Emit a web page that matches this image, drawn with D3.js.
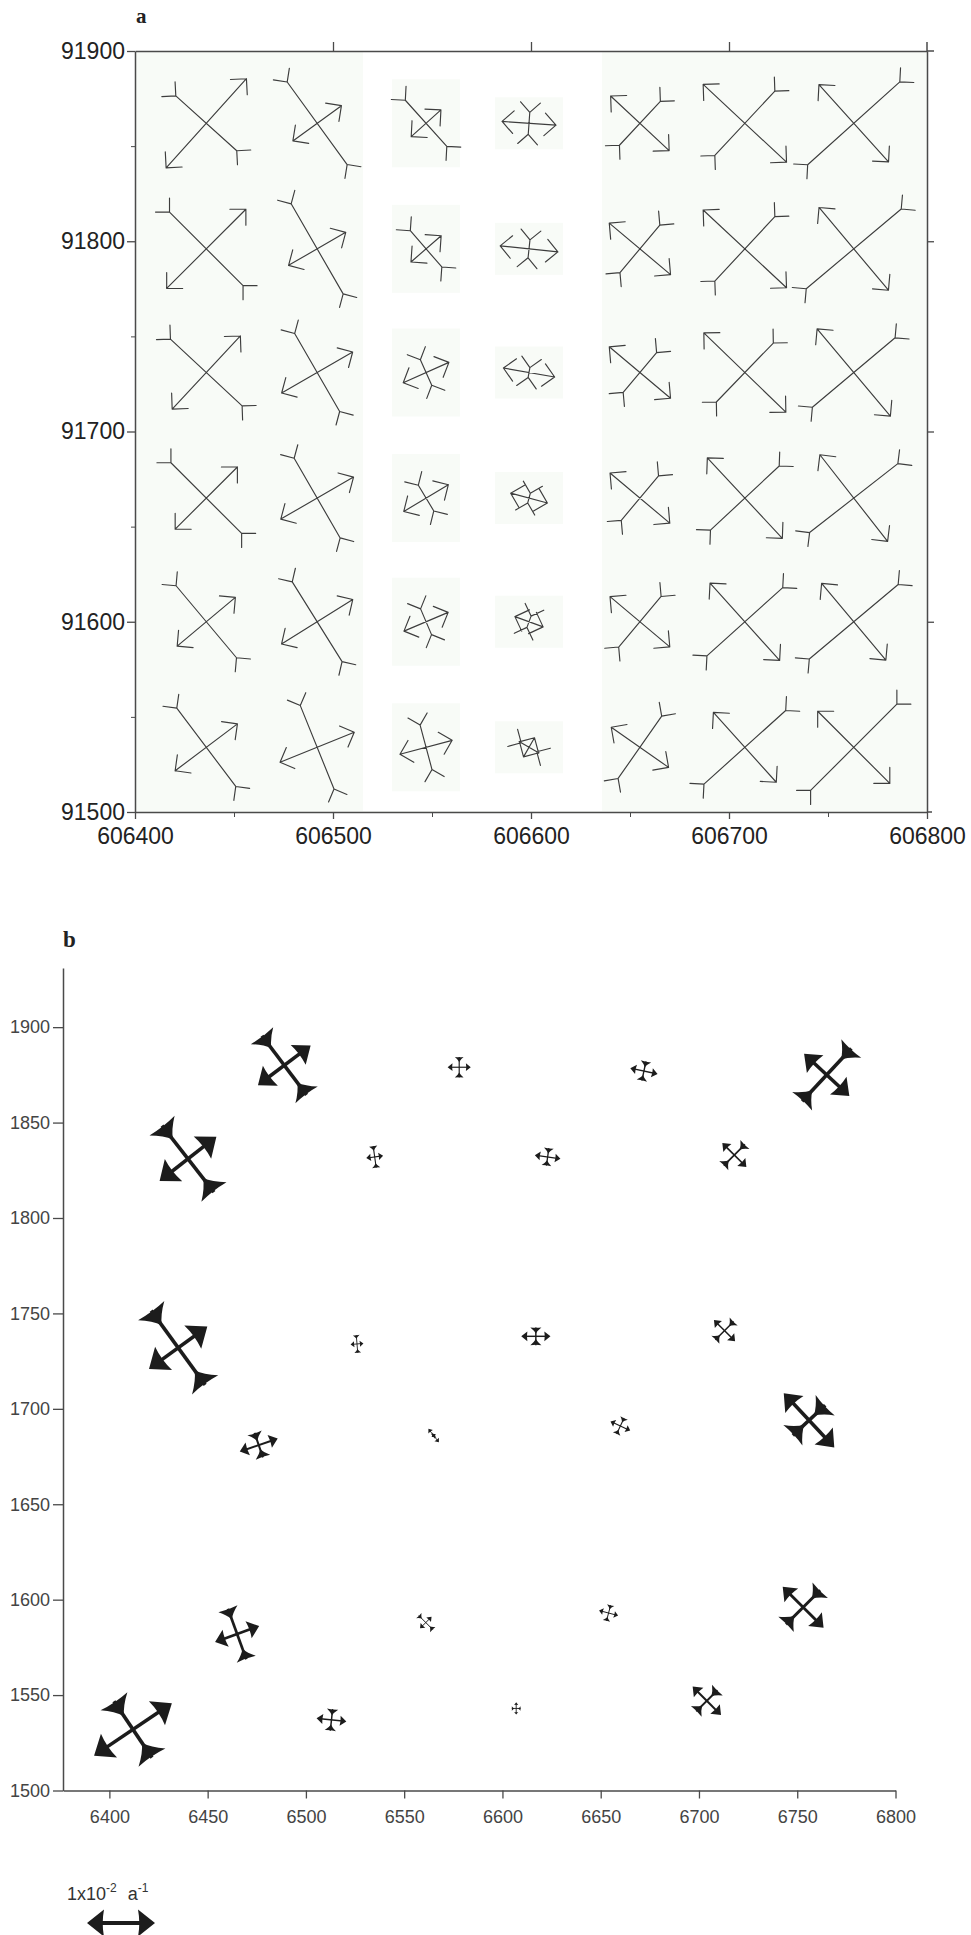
<!DOCTYPE html>
<html><head><meta charset="utf-8">
<script src="https://cdn.jsdelivr.net/npm/d3@7"></script>
<style>body{margin:0;background:#fff} svg{display:block}</style>
</head><body>
<svg id="c" width="971" height="1935"></svg>
<script>
// ---------------- Panel a data ----------------
const aEast  = [606436, 606492, 606547, 606599, 606655, 606708, 606763];
const aNorth = [91862, 91796, 91731, 91665, 91600, 91534];
// rows top -> bottom, columns west -> east (arbitrary strain units)
const aExt = [
  [6.0, 3.0, 2.0, 2.7, 4.0, 5.7, 5.2],
  [5.6, 3.3, 2.0, 2.9, 4.0, 5.7, 5.4],
  [5.0, 4.1, 2.5, 2.6, 4.0, 5.7, 5.7],
  [4.4, 4.2, 2.6, 1.9, 3.9, 5.5, 5.5],
  [3.8, 4.2, 2.4, 1.5, 3.9, 5.2, 5.0],
  [3.9, 4.0, 2.7, 1.1, 3.5, 4.7, 5.1]
];
const aComp = [
  [4.1, 5.1, 3.1, 1.1, 3.0, 4.4, 6.2],
  [5.2, 5.2, 2.4, 0.9, 3.1, 4.4, 6.2],
  [4.9, 4.5, 1.4, 0.5, 2.6, 4.1, 5.4],
  [5.0, 4.6, 1.5, 0.5, 2.9, 4.7, 5.6],
  [4.7, 4.7, 1.4, 0.6, 3.3, 5.1, 5.8],
  [4.9, 4.5, 2.3, 0.9, 3.8, 5.5, 6.1]
];
// azimuth of the extension axis, degrees counter-clockwise from east
const aAzimuth = [
  [48, 36, 42, -4, 137, 137, 132],
  [45, 30, 41, -6, 140, 137, 130],
  [47, 30, 24, -10, 140, 136, 130],
  [45, 30, 31, -15, 140, 133, 128],
  [40, 32, 23, -20, 140, 132, 130],
  [37, 22, 15, 60, 145, 132, 135]
];
const aXTicks = [606400, 606500, 606600, 606700, 606800];
const aXMinor = [606450, 606550, 606650, 606750];
const aTopTicks = [606500, 606600, 606700];
const aYTicks = [91500, 91600, 91700, 91800, 91900];
const aYMinor = [91550, 91650, 91750, 91850];
const aRightTicks = [91600, 91700, 91800];

// ---------------- Panel b data ----------------
const bEast  = [6489, 6440, 6578, 6535, 6435, 6672, 6765, 6623, 6718, 6617, 6713, 6526,
                6756, 6753, 6704, 6660, 6654, 6607, 6476, 6565, 6465, 6412, 6513, 6561];
const bNorth = [1880, 1831, 1879, 1832, 1732, 1877, 1875, 1832, 1833, 1738, 1741, 1734,
                1694, 1596, 1547, 1691, 1593, 1543, 1681, 1686, 1582, 1532, 1537, 1588];
// principal strain rates, units of 1x10^-2 a^-1
const bExt  = [0.97, 1.06, 0.34, 0.25, 1.06, 0.41, 0.91, 0.38, 0.50, 0.43, 0.44, 0.19,
               1.09, 0.85, 0.59, 0.32, 0.29, 0.18, 0.59, 0.25, 0.69, 1.38, 0.44, 0.24];
const bComp = [1.09, 1.24, 0.30, 0.32, 1.35, 0.29, 1.06, 0.26, 0.44, 0.26, 0.38, 0.26,
               0.65, 0.71, 0.44, 0.26, 0.24, 0.13, 0.38, 0.03, 0.79, 1.00, 0.32, 0.29];
const bAzimuth = [37, 38, 0, 8, 36, -12, 137, -8, 135, 0, 135, 5,
                  133, 135, 135, -25, -15, 90, 19, 128, 20, 34, -6, 45];
const bXTicks = [6400, 6450, 6500, 6550, 6600, 6650, 6700, 6750, 6800];
const bYTicks = [1500, 1550, 1600, 1650, 1700, 1750, 1800, 1850, 1900];
const legendValue = 1;   // 1x10^-2 a^-1

// ---------------- drawing ----------------
const svg = d3.select("#c");
svg.append("rect").attr("width", 971).attr("height", 1935).attr("fill", "#fff");
const SANS = "'Liberation Sans', Arial, Helvetica, sans-serif";
const SERIF = "'Liberation Serif', 'DejaVu Serif', serif";

// scales
const xA = d3.scaleLinear().domain([606400, 606800]).range([135, 927]);
const yA = d3.scaleLinear().domain([91500, 91900]).range([812, 51]);
const aLen = d3.scaleLinear().domain([0, 1]).range([0, 10]);

const xB = d3.scaleLinear().domain([6376.4, 6800]).range([63, 895.5]);
const yB = d3.scaleLinear().domain([1500, 1931]).range([1790.5, 968]);
const bLen = d3.scaleLinear().domain([0, 1]).range([0, 34]);

function rot(v, deg) {
  const r = deg * Math.PI / 180, c = Math.cos(r), s = Math.sin(r);
  return [v[0] * c - v[1] * s, v[0] * s + v[1] * c];
}

// ---- panel a background tint (scanned paper) ----
const tint = "#f8fbf7";
const gTint = svg.append("g");
gTint.append("rect").attr("x", xA(606400)).attr("y", yA(91900))
  .attr("width", xA(606800) - xA(606400)).attr("height", yA(91500) - yA(91900)).attr("fill", tint);
gTint.append("rect").attr("x", 363).attr("y", yA(91900) + 1)
  .attr("width", 602 - 363).attr("height", yA(91500) - yA(91900) - 2).attr("fill", "#fff");
aNorth.forEach((n, r) => {
  const cy = yA(n);
  gTint.append("rect").attr("x", xA(aEast[2]) - 34).attr("y", cy - 44)
    .attr("width", 68).attr("height", 88).attr("fill", tint);
  gTint.append("rect").attr("x", xA(aEast[3]) - 34).attr("y", cy - 26)
    .attr("width", 68).attr("height", 52).attr("fill", tint);
});

// ---- panel a crosses ----
const gA = svg.append("g").attr("fill", "none").attr("stroke", "#3d3d3d")
  .attr("stroke-width", 1.15).attr("stroke-linecap", "round");
aNorth.forEach((n, r) => {
  aEast.forEach((e, c) => {
    const cx = xA(e), cy = yA(n);
    const E = aLen(aExt[r][c]), C = aLen(aComp[r][c]);
    const t = aAzimuth[r][c] * Math.PI / 180;
    const u = [Math.cos(t), -Math.sin(t)];
    const v = [-Math.sin(t), -Math.cos(t)];
    const p = d3.path();
    // extension axis with outward open arrowheads
    p.moveTo(cx - E * u[0], cy - E * u[1]); p.lineTo(cx + E * u[0], cy + E * u[1]);
    [1, -1].forEach(s => {
      const tip = [cx + s * E * u[0], cy + s * E * u[1]];
      const back = [-s * u[0], -s * u[1]];
      [45, -45].forEach(a => {
        const b = rot(back, a);
        p.moveTo(tip[0], tip[1]); p.lineTo(tip[0] + 16 * b[0], tip[1] + 16 * b[1]);
      });
    });
    // compression axis with inward arrowheads (forked ends)
    p.moveTo(cx - C * v[0], cy - C * v[1]); p.lineTo(cx + C * v[0], cy + C * v[1]);
    [1, -1].forEach(s => {
      const end = [cx + s * C * v[0], cy + s * C * v[1]];
      const out = [s * v[0], s * v[1]];
      [45, -45].forEach(a => {
        const b = rot(out, a);
        p.moveTo(end[0], end[1]); p.lineTo(end[0] + 14 * b[0], end[1] + 14 * b[1]);
      });
    });
    gA.append("path").attr("d", p.toString());
  });
});

// ---- panel a axes ----
const axCol = "#4a4a4a";
function styleAxis(g, fs, col) {
  g.attr("font-family", SANS).attr("font-size", fs).attr("color", axCol);
  g.selectAll("text").attr("fill", col);
  g.selectAll(".tick line").attr("stroke-width", 1.3);
  g.select(".domain").attr("stroke-width", 1.5);
}
const gAB = svg.append("g").attr("transform", `translate(0,${yA(91500)})`)
  .call(d3.axisBottom(xA).tickValues(aXTicks).tickSize(7).tickSizeOuter(0).tickPadding(9).tickFormat(d3.format("d")));
styleAxis(gAB, 23, "#222");
const gABm = svg.append("g").attr("transform", `translate(0,${yA(91500)})`)
  .call(d3.axisBottom(xA).tickValues(aXMinor).tickSize(5).tickFormat(""));
gABm.select(".domain").remove(); gABm.attr("color", axCol);
const gAL = svg.append("g").attr("transform", `translate(${xA(606400)},0)`)
  .call(d3.axisLeft(yA).tickValues(aYTicks).tickSize(8).tickSizeOuter(0).tickPadding(2).tickFormat(d3.format("d")));
styleAxis(gAL, 23, "#222");
const gALm = svg.append("g").attr("transform", `translate(${xA(606400)},0)`)
  .call(d3.axisLeft(yA).tickValues(aYMinor).tickSize(4).tickFormat(""));
gALm.select(".domain").remove(); gALm.attr("color", axCol);
const gAT = svg.append("g").attr("transform", `translate(0,${yA(91900)})`)
  .call(d3.axisTop(xA).tickValues(aTopTicks).tickSize(9).tickSizeOuter(0).tickFormat(""));
styleAxis(gAT, 23, "#222");
const gAR = svg.append("g").attr("transform", `translate(${xA(606800)},0)`)
  .call(d3.axisRight(yA).tickValues(aRightTicks).tickSize(7).tickSizeOuter(0).tickFormat(""));
styleAxis(gAR, 23, "#222");
// frame extensions at the corners
const gAF = svg.append("g").attr("stroke", axCol).attr("stroke-width", 1.5);
gAF.append("line").attr("x1", xA(606800)).attr("x2", xA(606800) + 7).attr("y1", yA(91900)).attr("y2", yA(91900));
gAF.append("line").attr("x1", xA(606800)).attr("x2", xA(606800)).attr("y1", yA(91900)).attr("y2", yA(91900) - 9);
gAF.append("line").attr("x1", xA(606800)).attr("x2", xA(606800) + 5).attr("y1", yA(91500)).attr("y2", yA(91500));

svg.append("text").attr("x", 136).attr("y", 23).attr("font-family", SERIF)
  .attr("font-weight", "bold").attr("font-size", 21).attr("fill", "#222").text("a");

// ---- panel b crosses ----
const gB = svg.append("g");
function outHead(tip, u, n, hs, hw) {
  const bx = tip[0] - hs * u[0], by = tip[1] - hs * u[1];
  const nx = tip[0] - 0.85 * hs * u[0], ny = tip[1] - 0.85 * hs * u[1];
  return `M${tip[0]},${tip[1]}L${bx + hw * n[0]},${by + hw * n[1]}Q${nx},${ny} ${bx - hw * n[0]},${by - hw * n[1]}Z`;
}
function inHead(end, uOut, n, hs, hw) {
  const tx = end[0] - hs * uOut[0], ty = end[1] - hs * uOut[1];
  const c1 = [end[0] + hw * n[0], end[1] + hw * n[1]];
  const c2 = [end[0] - hw * n[0], end[1] - hw * n[1]];
  const m = 0.5;
  const q1 = [end[0] - m * hs * uOut[0] + 0.3 * hw * n[0], end[1] - m * hs * uOut[1] + 0.3 * hw * n[1]];
  const q2 = [end[0] - m * hs * uOut[0] - 0.3 * hw * n[0], end[1] - m * hs * uOut[1] - 0.3 * hw * n[1]];
  const qb = [end[0] - 0.12 * hs * uOut[0], end[1] - 0.12 * hs * uOut[1]];
  return `M${c1[0]},${c1[1]}Q${q1[0]},${q1[1]} ${tx},${ty}Q${q2[0]},${q2[1]} ${c2[0]},${c2[1]}Q${qb[0]},${qb[1]} ${c1[0]},${c1[1]}Z`;
}
function drawB(g, cx, cy, Le, Lc, az, opts = {}) {
  const t = az * Math.PI / 180;
  const u = [Math.cos(t), -Math.sin(t)];
  const v = [-Math.sin(t), -Math.cos(t)];
  const mx = Math.max(Le, Lc);
  const hs = opts.hs || Math.max(2.4, Math.min(18, 0.42 * mx));
  const lw = opts.lw || Math.max(0.9, Math.min(3.6, 0.1 * mx));
  const col = "#1c1c1c";
  const sh = Math.max(0, Le - 0.6 * hs);
  g.append("line").attr("x1", cx - sh * u[0]).attr("y1", cy - sh * u[1])
    .attr("x2", cx + sh * u[0]).attr("y2", cy + sh * u[1])
    .attr("stroke", col).attr("stroke-width", lw);
  [1, -1].forEach(s => {
    const uu = [s * u[0], s * u[1]];
    g.append("path").attr("d", outHead([cx + Le * uu[0], cy + Le * uu[1]], uu, v, hs, 0.8 * hs)).attr("fill", col);
  });
  if (Lc > 0) {
    g.append("line").attr("x1", cx - Lc * v[0]).attr("y1", cy - Lc * v[1])
      .attr("x2", cx + Lc * v[0]).attr("y2", cy + Lc * v[1])
      .attr("stroke", col).attr("stroke-width", lw);
    [1, -1].forEach(s => {
      const vv = [s * v[0], s * v[1]];
      g.append("path").attr("d", inHead([cx + Lc * vv[0], cy + Lc * vv[1]], vv, u, hs, 0.9 * hs)).attr("fill", col);
    });
  }
}
bEast.forEach((e, i) => {
  drawB(gB, xB(e), yB(bNorth[i]), bLen(bExt[i]), bLen(bComp[i]), bAzimuth[i]);
});

// ---- panel b axes ----
const gBB = svg.append("g").attr("transform", `translate(0,${yB(1500)})`)
  .call(d3.axisBottom(xB).tickValues(bXTicks).tickSize(8).tickSizeOuter(0).tickPadding(12).tickFormat(d3.format("d")));
styleAxis(gBB, 18, "#444");
const gBL = svg.append("g").attr("transform", `translate(${xB.range()[0]},0)`)
  .call(d3.axisLeft(yB).tickValues(bYTicks).tickSize(10).tickSizeOuter(0).tickPadding(3).tickFormat(d3.format("d")));
styleAxis(gBL, 18, "#444");

svg.append("text").attr("x", 63).attr("y", 947).attr("font-family", SERIF)
  .attr("font-weight", "bold").attr("font-size", 23).attr("fill", "#222").text("b");

// ---- legend ----
const lt = svg.append("text").attr("x", 67).attr("y", 1900).attr("font-family", SANS)
  .attr("font-size", 18).attr("fill", "#333");
lt.append("tspan").text("1x10");
lt.append("tspan").attr("dy", -8).attr("font-size", 12).text("-2");
lt.append("tspan").attr("dy", 8).attr("dx", 11).text("a");
lt.append("tspan").attr("dy", -8).attr("font-size", 12).text("-1");
drawB(svg.append("g"), 121, 1923, bLen(legendValue), 0, 0, { hs: 17, lw: 4.2 });
</script>
</body></html>
